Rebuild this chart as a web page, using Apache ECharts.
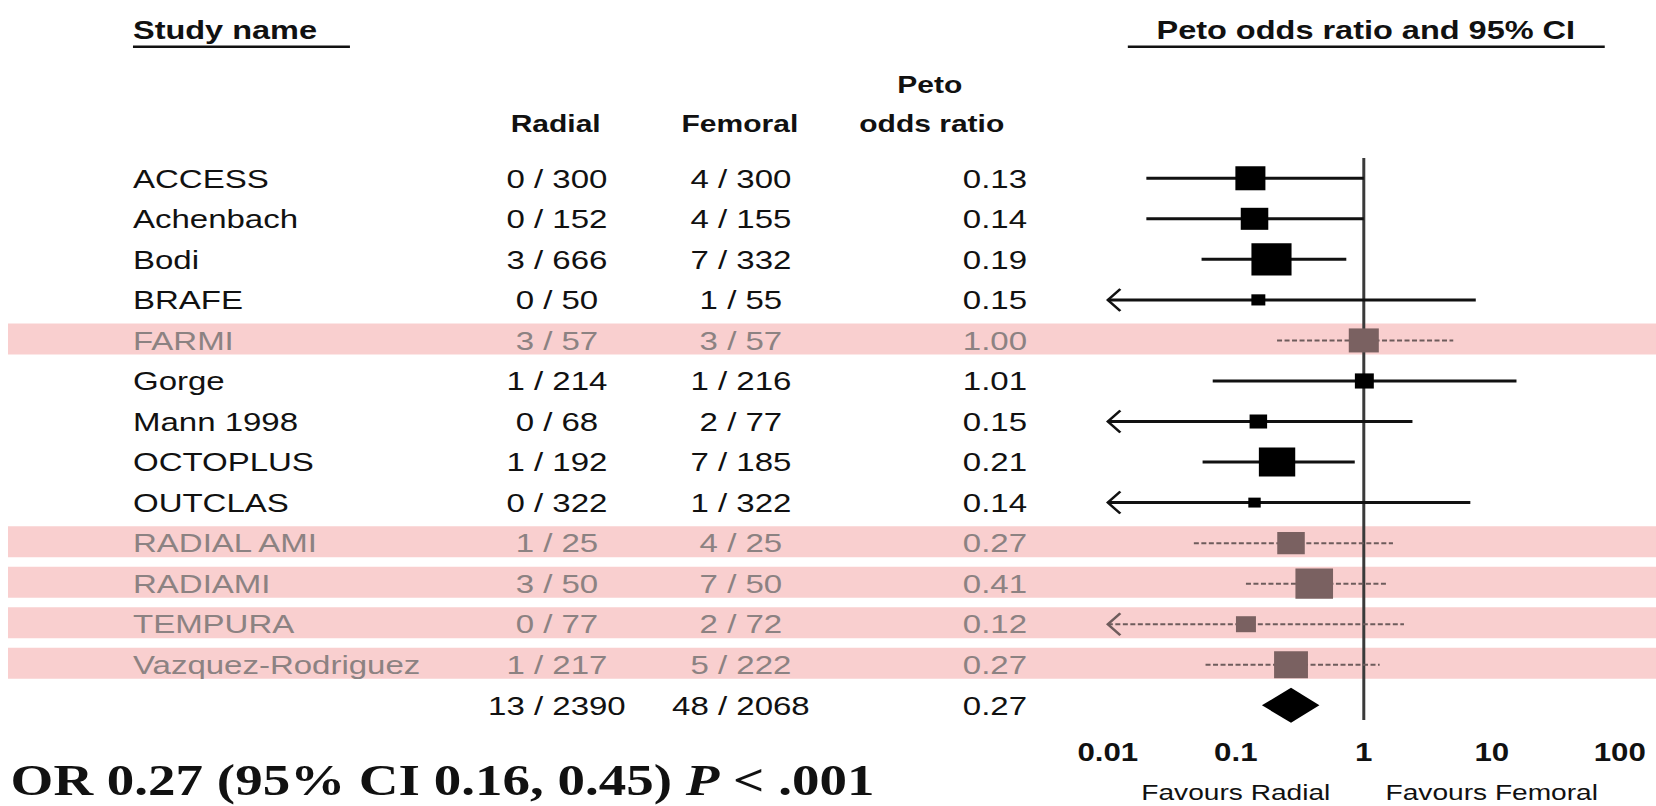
<!DOCTYPE html>
<html>
<head>
<meta charset="utf-8">
<script src="https://cdn.jsdelivr.net/npm/echarts@6/dist/echarts.min.js"></script>
<style>
html,body{margin:0;padding:0;background:#fff;overflow:hidden;}
#wrap{width:1656px;height:806px;overflow:hidden;position:relative;background:#fff;}
#chart{width:1325px;height:806px;transform:scaleX(1.249811);transform-origin:0 0;}
</style>
</head>
<body>
<div id="wrap"><div id="chart"></div></div>
<script>
// ---------------- DATA ----------------
const studyNames = ['ACCESS','Achenbach','Bodi','BRAFE','FARMI','Gorge','Mann 1998','OCTOPLUS','OUTCLAS','RADIAL AMI','RADIAMI','TEMPURA','Vazquez-Rodriguez'];
const radialEvents = ['0 / 300','0 / 152','3 / 666','0 / 50','3 / 57','1 / 214','0 / 68','1 / 192','0 / 322','1 / 25','3 / 50','0 / 77','1 / 217'];
const femoralEvents = ['4 / 300','4 / 155','7 / 332','1 / 55','3 / 57','1 / 216','2 / 77','7 / 185','1 / 322','4 / 25','7 / 50','2 / 72','5 / 222'];
const petoOR = [0.13, 0.14, 0.19, 0.15, 1.00, 1.01, 0.15, 0.21, 0.14, 0.27, 0.41, 0.12, 0.27];
const ciLower = [0.020, 0.020, 0.054, 0.003, 0.21, 0.066, 0.009, 0.055, 0.003, 0.047, 0.12, 0.007, 0.058];
const ciUpper = [1.00, 1.00, 0.73, 7.5, 5.0, 15.6, 2.4, 0.85, 6.8, 1.69, 1.55, 2.06, 1.33];
const studyWeights = [8.8, 7.4, 15.7, 1.9, 8.8, 3.5, 3.0, 12.9, 1.5, 7.4, 13.8, 3.9, 11.2];
const highlighted = [false,false,false,false,true,false,false,false,false,true,true,true,true];
const pooledRadial = '13 / 2390';
const pooledFemoral = '48 / 2068';
const pooledOR = 0.27;
const pooledLower = 0.16;
const pooledUpper = 0.45;
const pooledP = '< .001';
const tickLabels = ['0.01','0.1','1','10','100'];
const AXIS_MIN = 0.01, AXIS_MAX = 100;

// ---------------- LAYOUT ----------------
const nRows = studyNames.length + 1;           // studies + pooled row
const pooledRow = studyNames.length;
const GRID_TOP = 158, ROW_H = 40.54;
const GRID_H = ROW_H * nRows;
const COL = { name: 106.4, radial: 445.6, femoral: 592.8, or: 770.4 };
const SANS = '"Liberation Sans", Arial, sans-serif';
const SERIF = '"Liberation Serif", "Times New Roman", serif';
const INK = '#111';
const GREY_TXT = '#8c8282';
const BAND = '#f9cfcf';

const chart = echarts.init(document.getElementById('chart'), null, { renderer: 'svg' });

const tableData = [];
for (let i = 0; i < nRows; i++) tableData.push([i]);
const bandData = highlighted.map((h, i) => h ? [i] : null).filter(Boolean);
const forestData = studyNames.map((n, i) => [petoOR[i], ciLower[i], ciUpper[i], i, studyWeights[i], highlighted[i] ? 1 : 0]);

function boxSide(w) { return 8.1 * Math.sqrt(w); }

function txt(x, y, text, align, color) {
  return {
    type: 'text', x: x, y: y,
    style: { text: text, fill: color, fontSize: 26.4, fontFamily: SANS, align: align, verticalAlign: 'middle' }
  };
}

const option = {
  animation: false,
  backgroundColor: '#fff',
  grid: [
    { left: 886.4, right: 29, top: GRID_TOP, height: GRID_H },
    { left: 0, width: 880, top: GRID_TOP, height: GRID_H }
  ],
  xAxis: [
    {
      type: 'log', logBase: 10, min: AXIS_MIN, max: AXIS_MAX, gridIndex: 0,
      axisLine: { show: false }, axisTick: { show: false }, splitLine: { show: false },
      axisLabel: {
        show: true, margin: 14, color: INK, fontSize: 25, fontWeight: 'bold', fontFamily: SANS,
        formatter: function (v) { return tickLabels[Math.round(Math.log10(v / AXIS_MIN))]; }
      }
    },
    { type: 'value', min: 0, max: 880, gridIndex: 1, show: false }
  ],
  yAxis: [
    { type: 'value', min: -0.5, max: nRows - 0.5, inverse: true, gridIndex: 0, show: false },
    { type: 'value', min: -0.5, max: nRows - 0.5, inverse: true, gridIndex: 1, show: false }
  ],
  graphic: [
    { type: 'text', x: 106.4, y: 29.5, style: { text: 'Study name', fill: INK, fontSize: 26, fontWeight: 'bold', fontFamily: SANS, align: 'left', verticalAlign: 'middle' } },
    { type: 'line', shape: { x1: 106.4, y1: 46.7, x2: 280, y2: 46.7 }, style: { stroke: INK, lineWidth: 2.6 } },
    { type: 'text', x: 1092.8, y: 29.5, style: { text: 'Peto odds ratio and 95% CI', fill: INK, fontSize: 26, fontWeight: 'bold', fontFamily: SANS, align: 'center', verticalAlign: 'middle' } },
    { type: 'line', shape: { x1: 902.4, y1: 46.7, x2: 1284, y2: 46.7 }, style: { stroke: INK, lineWidth: 2.6 } },
    { type: 'text', x: 444.6, y: 123.3, style: { text: 'Radial', fill: INK, fontSize: 24, fontWeight: 'bold', fontFamily: SANS, align: 'center', verticalAlign: 'middle' } },
    { type: 'text', x: 592, y: 123.3, style: { text: 'Femoral', fill: INK, fontSize: 24, fontWeight: 'bold', fontFamily: SANS, align: 'center', verticalAlign: 'middle' } },
    { type: 'text', x: 744, y: 84.2, style: { text: 'Peto', fill: INK, fontSize: 24, fontWeight: 'bold', fontFamily: SANS, align: 'center', verticalAlign: 'middle' } },
    { type: 'text', x: 745.5, y: 123.3, style: { text: 'odds ratio', fill: INK, fontSize: 24, fontWeight: 'bold', fontFamily: SANS, align: 'center', verticalAlign: 'middle' } },
    { type: 'text', x: 988.8, y: 792, style: { text: 'Favours Radial', fill: INK, fontSize: 22.5, fontFamily: SANS, align: 'center', verticalAlign: 'middle' } },
    { type: 'text', x: 1193.6, y: 792, style: { text: 'Favours Femoral', fill: INK, fontSize: 22.5, fontFamily: SANS, align: 'center', verticalAlign: 'middle' } },
    {
      type: 'text', x: 8.5, y: 780,
      style: {
        text: '{n|OR ' + pooledOR.toFixed(2) + ' (95% CI ' + pooledLower.toFixed(2) + ', ' + pooledUpper.toFixed(2) + ') }{p|P}{n| ' + pooledP + '}',
        align: 'left', verticalAlign: 'middle',
        rich: {
          n: { fontSize: 44, lineHeight: 44, fontWeight: 'bold', fontFamily: SERIF, fill: INK, color: INK },
          p: { fontSize: 44, lineHeight: 44, fontWeight: 'bold', fontStyle: 'italic', fontFamily: SERIF, fill: INK, color: INK }
        }
      }
    }
  ],
  series: [
    {
      name: 'bands', type: 'custom', xAxisIndex: 1, yAxisIndex: 1, z: 0, silent: true,
      data: bandData, encode: { y: 0 },
      renderItem: function (params, api) {
        const y = api.coord([0, api.value(0)])[1];
        return { type: 'rect', shape: { x: 6.4, y: y - 17, width: 1325 - 6.4, height: 31 }, style: { fill: BAND } };
      }
    },
    {
      name: 'reference', type: 'line', xAxisIndex: 0, yAxisIndex: 0, z: 2, silent: true, clip: false,
      symbol: 'none', data: [[1, -0.5], [1, nRows - 0.64]],
      lineStyle: { color: '#3a3a3a', width: 2.4 }
    },
    {
      name: 'table', type: 'custom', xAxisIndex: 1, yAxisIndex: 1, z: 3, silent: true,
      data: tableData, encode: { y: 0 },
      renderItem: function (params, api) {
        const i = api.value(0);
        const y = api.coord([0, i])[1];
        const isPooled = i === pooledRow;
        const col = (!isPooled && highlighted[i]) ? GREY_TXT : INK;
        const name = isPooled ? '' : studyNames[i];
        const rad = isPooled ? pooledRadial : radialEvents[i];
        const fem = isPooled ? pooledFemoral : femoralEvents[i];
        const orv = (isPooled ? pooledOR : petoOR[i]).toFixed(2);
        return {
          type: 'group',
          children: [
            txt(COL.name, y, name, 'left', col),
            txt(COL.radial, y, rad, 'center', col),
            txt(COL.femoral, y, fem, 'center', col),
            txt(COL.or, y, orv, 'left', col)
          ]
        };
      }
    },
    {
      name: 'studies', type: 'custom', xAxisIndex: 0, yAxisIndex: 0, z: 4, silent: true, clip: false,
      data: forestData, encode: { x: 0, y: 3 },
      renderItem: function (params, api) {
        const or = api.value(0), lo = api.value(1), hi = api.value(2), row = api.value(3), w = api.value(4), ex = api.value(5);
        const p = api.coord([or, row]);
        const y = p[1];
        const clipped = lo < AXIS_MIN;
        const xl = api.coord([clipped ? AXIS_MIN : lo, row])[0];
        const xh = api.coord([hi, row])[0];
        const side = boxSide(w);
        const lineCol = ex ? '#6e5c5c' : INK;
        const children = [
          { type: 'line', shape: { x1: xl, y1: y, x2: xh, y2: y },
            style: { stroke: lineCol, lineWidth: ex ? 2 : 3, lineDash: ex ? [4, 2] : null } },
          { type: 'rect', shape: { x: p[0] - side / 2, y: y - side / 2, width: side, height: side },
            style: { fill: ex ? '#7a6161' : '#000' } }
        ];
        if (clipped) {
          children.push({ type: 'polyline', shape: { points: [[xl + 10, y - 11], [xl, y], [xl + 10, y + 11]] },
            style: { stroke: lineCol, lineWidth: 2.2, fill: null } });
        }
        return { type: 'group', children: children };
      }
    },
    {
      name: 'pooled', type: 'custom', xAxisIndex: 0, yAxisIndex: 0, z: 4, silent: true, clip: false,
      data: [[pooledOR, pooledLower, pooledUpper, pooledRow]], encode: { x: 0, y: 3 },
      renderItem: function (params, api) {
        const row = api.value(3);
        const c = api.coord([api.value(0), row]);
        const xl = api.coord([api.value(1), row])[0];
        const xh = api.coord([api.value(2), row])[0];
        const h = 17.5;
        return { type: 'polygon', shape: { points: [[xl, c[1]], [c[0], c[1] - h], [xh, c[1]], [c[0], c[1] + h]] },
          style: { fill: '#000' } };
      }
    }
  ]
};
chart.setOption(option);
</script>
</body>
</html>
